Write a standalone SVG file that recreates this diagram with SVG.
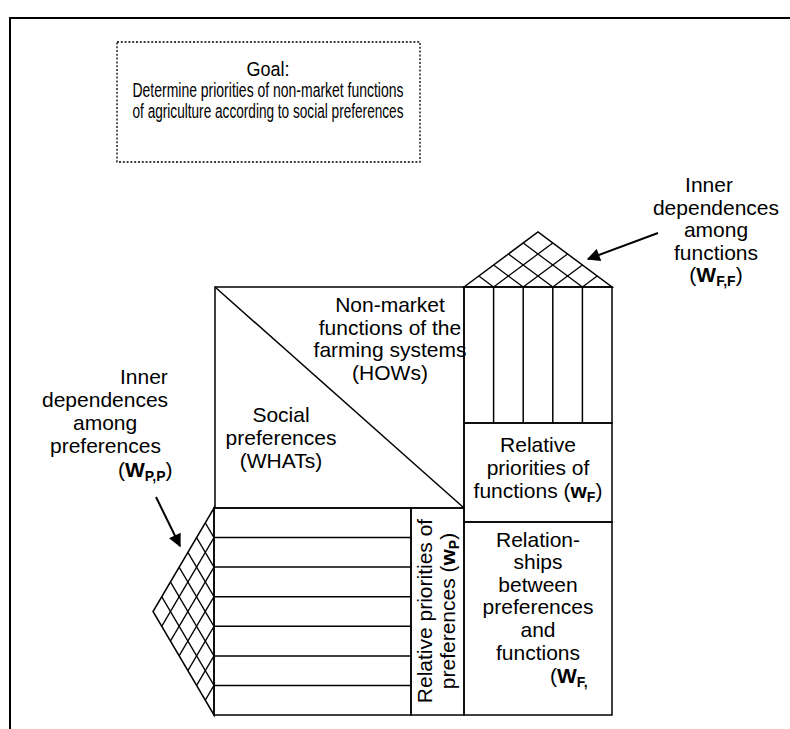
<svg xmlns="http://www.w3.org/2000/svg" width="790" height="729" viewBox="0 0 790 729">
  <style>
    .ln { fill: none; stroke: #000; stroke-width: 1.5; }
    .hatch { fill: none; stroke: #000; stroke-width: 1.3; }
    .frame { fill: none; stroke: #000; stroke-width: 2; }
    .dot { fill: none; stroke: #000; stroke-width: 1.3; stroke-dasharray: 2 1.8; }
    text { font-family: "Liberation Sans", Arial, sans-serif; font-size: 21px; fill: #000; }
    .goal { font-size: 20.5px; }
    .c { text-anchor: middle; }
    .b { font-weight: bold; }
    .sub { font-weight: bold; font-size: 14px; }
    .arrow { fill: none; stroke: #000; stroke-width: 2; }
  </style>
  <defs>
    <marker id="head" viewBox="0 0 10 10" refX="9" refY="5" markerWidth="7" markerHeight="6.5" orient="auto" markerUnits="strokeWidth">
      <path d="M0,0 L10,5 L0,10 Z" fill="#000"/>
    </marker>
  </defs>

  <rect width="790" height="729" fill="#fff"/>

  <!-- page frame (top and left edges) -->
  <polyline class="frame" points="10,729 10,18 790,18"/>

  <!-- goal box -->
  <g id="goal">
    <rect class="dot" x="117" y="42" width="303" height="120"/>
    <text class="goal c" x="268" y="76" textLength="43" lengthAdjust="spacingAndGlyphs">Goal:</text>
    <text class="goal c" x="268" y="97" textLength="271" lengthAdjust="spacingAndGlyphs">Determine priorities of non-market functions</text>
    <text class="goal c" x="268" y="118" textLength="271" lengthAdjust="spacingAndGlyphs">of agriculture according to social preferences</text>
  </g>

  <!-- central matrix: WHATs / HOWs -->
  <g id="matrix">
    <rect class="ln" x="215" y="287" width="249" height="221"/>
    <line class="ln" x1="215" y1="287" x2="464" y2="508"/>
    <text class="c" x="390" y="312">Non-market</text>
    <text class="c" x="390" y="335">functions of the</text>
    <text class="c" x="390" y="357">farming systems</text>
    <text class="c" x="390" y="380">(HOWs)</text>
    <text class="c" x="281" y="422">Social</text>
    <text class="c" x="281" y="445">preferences</text>
    <text class="c" x="281" y="468">(WHATs)</text>
  </g>

  <!-- function columns with roof -->
  <g id="functions">
    <rect class="ln" x="464" y="287" width="148" height="136"/>
    <line class="ln" x1="493.6" y1="287" x2="493.6" y2="423"/>
    <line class="ln" x1="523.2" y1="287" x2="523.2" y2="423"/>
    <line class="ln" x1="552.8" y1="287" x2="552.8" y2="423"/>
    <line class="ln" x1="582.4" y1="287" x2="582.4" y2="423"/>
  </g>

  <g id="roof-functions">
    <polygon class="ln" points="464,287 538,232 612,287"/>
    <line class="hatch" x1="493.6" y1="287" x2="552.8" y2="243"/>
    <line class="hatch" x1="523.2" y1="287" x2="567.6" y2="254"/>
    <line class="hatch" x1="552.8" y1="287" x2="582.4" y2="265"/>
    <line class="hatch" x1="582.4" y1="287" x2="597.2" y2="276"/>
    <line class="hatch" x1="493.6" y1="287" x2="478.8" y2="276"/>
    <line class="hatch" x1="523.2" y1="287" x2="493.6" y2="265"/>
    <line class="hatch" x1="552.8" y1="287" x2="508.4" y2="254"/>
    <line class="hatch" x1="582.4" y1="287" x2="523.2" y2="243"/>
  </g>

  <!-- relative priorities of functions -->
  <g id="weights-functions">
    <rect class="ln" x="464" y="423" width="148" height="99"/>
    <text class="c" x="538" y="452">Relative</text>
    <text class="c" x="538" y="475">priorities of</text>
    <text class="c" x="538" y="498">functions (<tspan class="b">w</tspan><tspan class="sub" dy="4">F</tspan><tspan dy="-4">)</tspan></text>
  </g>

  <!-- preference rows -->
  <g id="preferences">
    <rect class="ln" x="214" y="508" width="197" height="207"/>
    <line class="ln" x1="214" y1="537.6" x2="411" y2="537.6"/>
    <line class="ln" x1="214" y1="567.1" x2="411" y2="567.1"/>
    <line class="ln" x1="214" y1="596.7" x2="411" y2="596.7"/>
    <line class="ln" x1="214" y1="626.3" x2="411" y2="626.3"/>
    <line class="ln" x1="214" y1="655.9" x2="411" y2="655.9"/>
    <line class="ln" x1="214" y1="685.4" x2="411" y2="685.4"/>
  </g>

  <g id="roof-preferences">
    <polygon class="ln" points="214,508 153,611.5 214,715"/>
    <line class="hatch" x1="214" y1="537.6" x2="161.7" y2="626.3"/>
    <line class="hatch" x1="214" y1="567.1" x2="170.4" y2="641.1"/>
    <line class="hatch" x1="214" y1="596.7" x2="179.1" y2="655.9"/>
    <line class="hatch" x1="214" y1="626.3" x2="187.9" y2="670.6"/>
    <line class="hatch" x1="214" y1="655.9" x2="196.6" y2="685.4"/>
    <line class="hatch" x1="214" y1="685.4" x2="205.3" y2="700.2"/>
    <line class="hatch" x1="214" y1="537.6" x2="205.3" y2="522.8"/>
    <line class="hatch" x1="214" y1="567.1" x2="196.6" y2="537.6"/>
    <line class="hatch" x1="214" y1="596.7" x2="187.9" y2="552.4"/>
    <line class="hatch" x1="214" y1="626.3" x2="179.1" y2="567.1"/>
    <line class="hatch" x1="214" y1="655.9" x2="170.4" y2="581.9"/>
    <line class="hatch" x1="214" y1="685.4" x2="161.7" y2="596.7"/>
  </g>

  <!-- relative priorities of preferences -->
  <g id="weights-preferences">
    <rect class="ln" x="411" y="508" width="53" height="207"/>
    <text class="c" transform="translate(432,611) rotate(-90)">Relative priorities of</text>
    <text class="c" transform="translate(455,611) rotate(-90)">preferences (<tspan class="b">w</tspan><tspan class="sub" dy="4">P</tspan><tspan dy="-4">)</tspan></text>
  </g>

  <!-- relationship matrix -->
  <g id="relationships">
    <rect class="ln" x="464" y="522" width="148" height="193"/>
    <text class="c" x="538" y="547">Relation-</text>
    <text class="c" x="538" y="569">ships</text>
    <text class="c" x="538" y="592">between</text>
    <text class="c" x="538" y="614">preferences</text>
    <text class="c" x="538" y="637">and</text>
    <text class="c" x="538" y="660">functions</text>
    <text x="550" y="683">(<tspan class="b">W</tspan><tspan class="sub" dy="4">F,</tspan></text>
  </g>

  <!-- annotations -->
  <g id="label-functions">
    <text class="c" x="709" y="192">Inner</text>
    <text class="c" x="716" y="215">dependences</text>
    <text class="c" x="716" y="237">among</text>
    <text class="c" x="716" y="260">functions</text>
    <text class="c" x="716" y="282">(<tspan class="b">W</tspan><tspan class="sub" dy="4">F,F</tspan><tspan dy="-4">)</tspan></text>
  </g>

  <g id="label-preferences">
    <text x="120" y="384">Inner</text>
    <text x="42" y="407">dependences</text>
    <text x="73" y="430">among</text>
    <text x="50" y="453">preferences</text>
    <text x="118" y="477">(<tspan class="b">W</tspan><tspan class="sub" dy="4">P,P</tspan><tspan dy="-4">)</tspan></text>
  </g>

  <!-- connectors -->
  <g id="connectors">
    <line class="arrow" x1="658" y1="233" x2="588" y2="259" marker-end="url(#head)"/>
    <line class="arrow" x1="156" y1="497" x2="180" y2="546" marker-end="url(#head)"/>
  </g>
</svg>
